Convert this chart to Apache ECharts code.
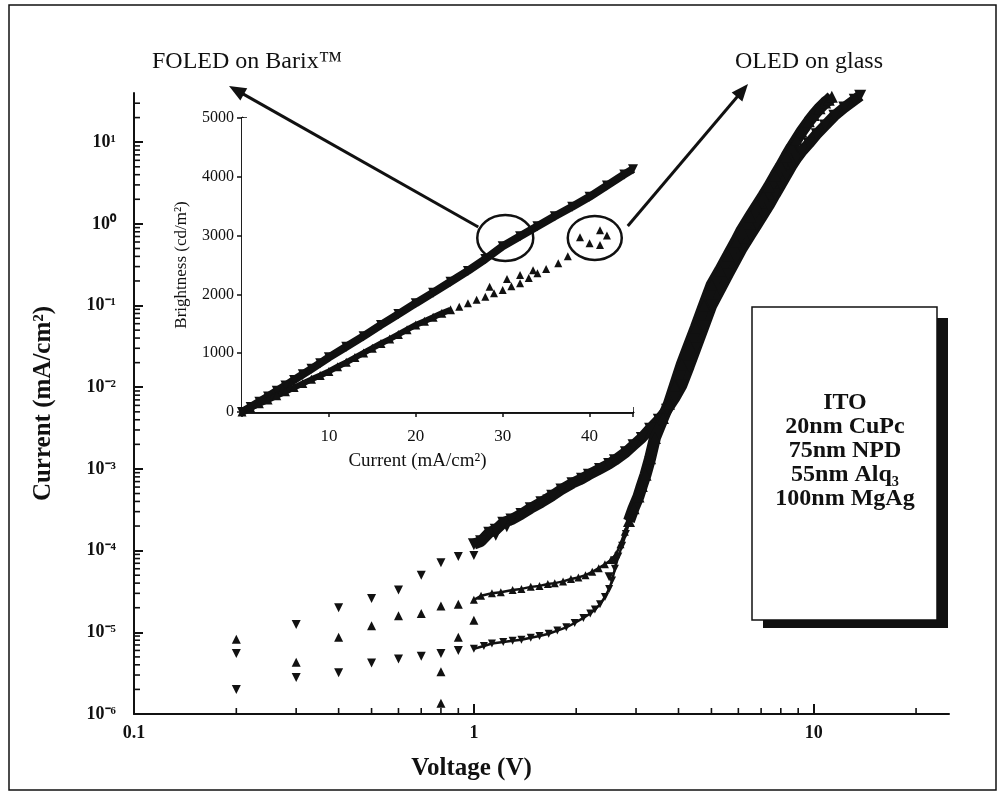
<!DOCTYPE html>
<html>
<head>
<meta charset="utf-8">
<title>OLED J-V</title>
<script src="https://cdn.jsdelivr.net/npm/echarts@6/dist/echarts.min.js"></script>
<style>
html,body{margin:0;padding:0;background:#fff;}
#main{width:1002px;height:801px;}
</style>
</head>
<body>
<div id="main"></div>
<script>
var FONT = "'Liberation Serif','Times New Roman',serif";
var INK = '#111';

//主图数据 电压(V) - 电流密度(mA/cm2)
var lowTop = [[0.2,5.5e-6],[0.3,1.25e-5],[0.4,2.0e-5],[0.5,2.6e-5],[0.6,3.3e-5],[0.7,5.0e-5],[0.8,7.1e-5],[0.9,8.5e-5],
	[1.0,8.7e-5],[1.16,1.5e-4],[1.25,1.9e-4],[1.29,2.3e-4],[1.46,3.1e-4],[1.64,4.3e-4]];
var lowMid = [[0.2,8.2e-6],[0.3,4.3e-6],[0.4,8.7e-6],[0.5,1.2e-5],[0.6,1.6e-5],[0.7,1.7e-5],[0.8,2.1e-5],[0.8,3.3e-6],
	[0.8,1.35e-6],[0.9,2.2e-5],[0.9,8.7e-6],[1.0,1.4e-5]];
var lowBot = [[0.2,2.0e-6],[0.3,2.8e-6],[0.4,3.2e-6],[0.5,4.2e-6],[0.6,4.7e-6],[0.7,5.1e-6],[0.8,5.5e-6],[0.9,6.0e-6],
	[2.5,4.8e-5],[2.6,7.5e-5]];
var topBand = [[1.0,1.2e-4],[1.05,1.3e-4],[1.11,1.66e-4],[1.16,1.8e-4],[1.22,2.2e-4],[1.29,2.4e-4],[1.38,2.8e-4],[1.47,3.3e-4],
	[1.58,3.9e-4],[1.7,4.7e-4],[1.81,5.6e-4],[1.95,6.7e-4],[2.08,7.6e-4],[2.18,8.5e-4],[2.35,1.0e-3],[2.5,1.15e-3],
	[2.6,1.28e-3],[2.8,1.6e-3],[2.95,1.95e-3],[3.12,2.4e-3],[3.3,3.1e-3],[3.5,4.0e-3],[3.7,5.3e-3],[3.9,7.4e-3],
	[4.09,1.05e-2],[4.3,1.8e-2],[4.5,3.0e-2],[4.75,5.5e-2],[5.01,0.1],[5.3,0.155],[5.6,0.24],[5.9,0.36],[6.14,0.49],
	[6.5,0.72],[6.8,0.97],[7.1,1.29],[7.38,1.67],[7.7,2.28],[8.0,3.0],[8.3,3.9],[8.61,5.1],[8.9,6.3],[9.2,7.6],
	[9.67,9.6],[10.2,12.5],[10.8,16],[11.5,21],[12.3,26.5],[13.2,33],[13.7,37]];
var midFlat = [[1.0,2.5e-5],[1.05,2.8e-5],[1.13,3.0e-5],[1.2,3.1e-5],[1.3,3.3e-5],[1.38,3.4e-5],[1.47,3.6e-5],[1.56,3.7e-5],
	[1.65,3.9e-5],[1.73,4.0e-5],[1.83,4.2e-5],[1.93,4.5e-5],[2.03,4.7e-5],[2.13,5.0e-5],[2.23,5.5e-5],[2.33,6.1e-5],
	[2.43,6.8e-5],[2.53,7.7e-5],[2.62,9.0e-5],[2.7,1.2e-4],[2.78,1.7e-4],[2.86,2.3e-4]];
var midSteep = [[2.86,2.3e-4],[2.95,3.3e-4],[3.05,4.6e-4],[3.12,6.2e-4],[3.2,8.5e-4],[3.3,1.35e-3],[3.41,2.4e-3],[3.6,4.2e-3],
	[3.75,6.3e-3],[3.9,1.04e-2],[4.09,1.9e-2],[4.3,3.3e-2],[4.5,5.4e-2],[4.75,0.1],[5.01,0.18],[5.3,0.27],[5.6,0.41],
	[5.9,0.61],[6.14,0.84],[6.5,1.23],[6.8,1.66],[7.1,2.2],[7.38,2.85],[7.7,3.9],[8.0,5.1],[8.3,6.7],[8.61,8.7],
	[8.9,10.8],[9.2,13.4],[9.67,18],[10.0,21.5],[10.4,26],[10.8,30.5],[11.07,33],[11.3,36]];
var botFlat = [[1.0,6.3e-6],[1.07,6.8e-6],[1.13,7.3e-6],[1.22,7.6e-6],[1.3,7.9e-6],[1.38,8.1e-6],[1.47,8.6e-6],[1.56,9.0e-6],
	[1.66,9.6e-6],[1.76,1.05e-5],[1.87,1.15e-5],[1.98,1.3e-5],[2.1,1.5e-5],[2.2,1.7e-5],[2.27,1.9e-5],[2.35,2.2e-5],
	[2.43,2.7e-5],[2.5,3.4e-5],[2.55,4.3e-5],[2.6,6.0e-5],[2.66,8.5e-5],[2.73,1.15e-4],[2.8,1.6e-4],[2.86,2.2e-4]];

//插图数据 电流(mA/cm2) - 亮度(cd/m2)
var barixBand = [[0,0],[1,85],[2,175],[3,265],[4,360],[5,450],[6,545],[7,640],[8,735],[9,830],[10,930],[12,1110],
	[14,1290],[16,1480],[18,1665],[20,1850],[22,2030],[24,2215],[26,2400],[28,2600],[30,2820],[32,2990],[34,3160],
	[36,3330],[38,3490],[40,3660],[42,3850],[44,4040],[45,4130]];
var glassBand = [[0,0],[1,70],[2,140],[3,205],[4,275],[5,345],[6,415],[7,485],[8,555],[9,620],[10,690],[11,770],[12,845],
	[13,925],[14,1005],[15,1085],[16,1165],[17,1240],[18,1320],[19,1400],[20,1480],[21,1545],[22,1610],[23,1680],[24,1740]];
var glassScatter = [[25,1790],[26,1850],[27,1910],[28,1960],[28.5,2130],[29,2020],[30,2075],[30.5,2260],[31,2140],[32,2190],
	[32,2330],[33,2280],[33.5,2410],[34,2360],[35,2430],[36.4,2530],[37.5,2650],[38.9,2970],[40,2870],[41.2,3090],
	[41.2,2840],[42,3000]];

//刻度
var xMinor = [0.2,0.3,0.4,0.5,0.6,0.7,0.8,0.9,2,3,4,5,6,7,8,9,20];
var yMinor = [];
for(var d=-6; d<=1; d++){
	for(var m=2; m<=9; m++){
		var v = m*Math.pow(10,d);
		if(v<40) yMinor.push(v);
	}
}
var boxLines = ['ITO','20nm CuPc','75nm NPD','55nm Alq\u2083','100nm MgAg'];

function sup(n){
	var map = {'-':'\u207b','0':'\u2070','1':'\u00b9','2':'\u00b2','3':'\u00b3','4':'\u2074','5':'\u2075','6':'\u2076'};
	return String(n).split('').map(function(c){return map[c];}).join('');
}

function mark(data, down, size, xi, yi){
	return {type:'scatter', data:data, symbol:'triangle', symbolRotate:down?180:0, symbolSize:size,
		xAxisIndex:xi, yAxisIndex:yi, itemStyle:{color:INK, opacity:1}, silent:true, clip:false, z:4};
}
function band(data, down, size, width, xi, yi){
	return {type:'line', data:data, symbol:'triangle', symbolRotate:down?180:0, symbolSize:size, showSymbol:true,
		showAllSymbol:true, xAxisIndex:xi, yAxisIndex:yi, itemStyle:{color:INK, opacity:1}, lineStyle:{color:INK, width:width},
		silent:true, z:4};
}

var option = {
	animation:false,
	backgroundColor:'#fff',
	grid:[
		{left:134, top:93, width:815, height:621, outerBoundsMode:'none'},
		{left:242, top:118, width:391, height:294, show:true, backgroundColor:'#fff', borderWidth:0, outerBoundsMode:'none', z:3}
	],
	xAxis:[
		{gridIndex:0, type:'log', logBase:10, min:0.1, max:25, interval:1,
			axisLine:{lineStyle:{color:INK, width:2}}, axisTick:{inside:true, length:10, lineStyle:{color:INK, width:2}},
			axisLabel:{color:INK, fontFamily:FONT, fontSize:18, fontWeight:'bold', margin:10, showMaxLabel:false,
				formatter:function(v){return String(Math.round(v*10)/10);}},
			splitLine:{show:false},
			name:'Voltage (V)', nameLocation:'middle', nameGap:42,
			nameTextStyle:{color:INK, fontFamily:FONT, fontSize:25, fontWeight:'bold', padding:[0,140,0,0]}},
		{gridIndex:1, type:'value', min:0, max:45, interval:10, position:'bottom',
			axisLine:{lineStyle:{color:INK, width:2.5}}, axisTick:{inside:true, length:5, lineStyle:{color:INK, width:1.5}},
			minorTick:{show:true, splitNumber:2, length:3, lineStyle:{color:INK, width:1.2}},
			axisLabel:{color:INK, fontFamily:FONT, fontSize:17, margin:16, showMinLabel:false, showMaxLabel:false},
			splitLine:{show:false},
			name:'Current (mA/cm\u00b2)', nameLocation:'middle', nameGap:40,
			nameTextStyle:{color:INK, fontFamily:FONT, fontSize:19, padding:[0,40,0,0]}},
		{gridIndex:1, type:'value', min:0, max:45, interval:10, position:'top',
			axisLine:{lineStyle:{color:INK, width:2.5}}, axisTick:{inside:true, length:5, lineStyle:{color:INK, width:1.5}},
			axisLabel:{show:false}, splitLine:{show:false}}
	],
	yAxis:[
		{gridIndex:0, type:'log', logBase:10, min:1e-6, max:40, interval:1,
			axisLine:{lineStyle:{color:INK, width:2}}, axisTick:{inside:true, length:9, lineStyle:{color:INK, width:2}},
			axisLabel:{color:INK, fontFamily:FONT, fontSize:18, fontWeight:'bold', margin:18, showMaxLabel:false,
				formatter:function(v){return '10'+sup(Math.round(Math.log(v)/Math.LN10));}},
			splitLine:{show:false},
			name:'Current (mA/cm\u00b2)', nameLocation:'middle', nameGap:78, nameRotate:90,
			nameTextStyle:{color:INK, fontFamily:FONT, fontSize:25, fontWeight:'bold'}},
		{gridIndex:1, type:'value', min:0, max:5000, interval:1000, position:'left',
			axisLine:{lineStyle:{color:INK, width:2.5}}, axisTick:{inside:true, length:5, lineStyle:{color:INK, width:1.5}},
			axisLabel:{color:INK, fontFamily:FONT, fontSize:16, margin:8, formatter:function(v){return String(v);}},
			splitLine:{show:false},
			name:'Brightness (cd/m\u00b2)', nameLocation:'middle', nameGap:52, nameRotate:90,
			nameTextStyle:{color:INK, fontFamily:FONT, fontSize:17}},
		{gridIndex:1, type:'value', min:0, max:5000, interval:1000, position:'right',
			axisLine:{lineStyle:{color:INK, width:2.5}}, axisTick:{inside:true, length:5, lineStyle:{color:INK, width:1.5}},
			axisLabel:{show:false}, splitLine:{show:false}}
	],
	series:[
		//主图小刻度
		{type:'scatter', data:xMinor.map(function(v){return [v,1e-6];}), symbol:'rect', symbolSize:[1.6,6], symbolOffset:[0,-3],
			xAxisIndex:0, yAxisIndex:0, itemStyle:{color:INK, opacity:1}, silent:true, clip:false, z:3},
		{type:'scatter', data:yMinor.map(function(v){return [0.1,v];}), symbol:'rect', symbolSize:[6,1.6], symbolOffset:[3,0],
			xAxisIndex:0, yAxisIndex:0, itemStyle:{color:INK, opacity:1}, silent:true, clip:false, z:3},
		mark(lowTop, true, 9, 0, 0),
		mark(lowMid, false, 9, 0, 0),
		mark(lowBot, true, 9, 0, 0),
		band(topBand, true, 12, 11, 0, 0),
		band(midFlat, false, 8, 2.5, 0, 0),
		band(midSteep, false, 12, 12, 0, 0),
		band(botFlat, true, 8, 2.5, 0, 0),
		//插图
		band(barixBand, true, 10, 8, 1, 1),
		band(glassBand, false, 9, 6, 1, 1),
		mark(glassScatter, false, 8, 1, 1)
	]
};

var chart = echarts.init(document.getElementById('main'), null, {renderer:'canvas'});
chart.setOption(option);

//箭头
function arrow(from, to){
	var dx = to[0]-from[0], dy = to[1]-from[1];
	var d = Math.sqrt(dx*dx+dy*dy), ux = dx/d, uy = dy/d;
	var len = 17, half = 7;
	var bx = to[0]-ux*len, by = to[1]-uy*len;
	return [
		{type:'line', shape:{x1:from[0], y1:from[1], x2:bx+ux*2, y2:by+uy*2}, style:{stroke:INK, lineWidth:3}, z:50},
		{type:'polygon', shape:{points:[[to[0],to[1]],[bx-uy*half,by+ux*half],[bx+uy*half,by-ux*half]]}, style:{fill:INK}, z:50}
	];
}

var c1 = chart.convertToPixel({gridIndex:1}, [30.3, 2960]);
var c2 = chart.convertToPixel({gridIndex:1}, [40.6, 2960]);
var g = [
	{type:'rect', shape:{x:9, y:5, width:987, height:785}, style:{fill:null, stroke:INK, lineWidth:1.5}, z:40},
	{type:'ellipse', shape:{cx:c1[0], cy:c1[1], rx:28, ry:23}, style:{fill:null, stroke:INK, lineWidth:2.5}, z:50},
	{type:'ellipse', shape:{cx:c2[0], cy:c2[1], rx:27, ry:22}, style:{fill:null, stroke:INK, lineWidth:2.5}, z:50},
	{type:'text', x:152, y:62, style:{text:'FOLED on Barix\u2122', font:'24px '+FONT, fill:INK, textVerticalAlign:'middle'}, z:50},
	{type:'text', x:735, y:62, style:{text:'OLED on glass', font:'24px '+FONT, fill:INK, textVerticalAlign:'middle'}, z:50},
	{type:'rect', shape:{x:763, y:318, width:185, height:310}, style:{fill:INK}, z:40},
	{type:'rect', shape:{x:752, y:307, width:185, height:313}, style:{fill:'#fff', stroke:INK, lineWidth:1.5}, z:41},
	{type:'text', x:845, y:391, style:{text:boxLines.join('\n'), font:'bold 24px '+FONT, fill:INK, textAlign:'center',
		textVerticalAlign:'top', lineHeight:24}, z:42}
];
g = g.concat(arrow([c1[0]-27, c1[1]-11], [229, 86]));
g = g.concat(arrow([c2[0]+33, c2[1]-12], [748, 84]));
chart.setOption({graphic:g});
</script>
</body>
</html>
